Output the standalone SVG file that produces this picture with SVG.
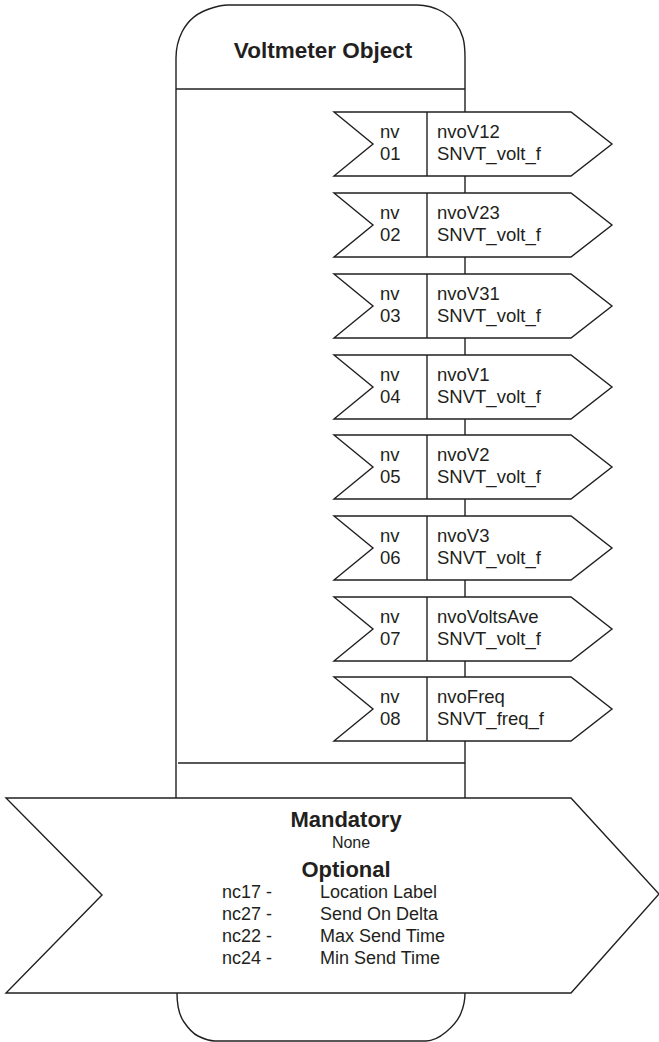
<svg xmlns="http://www.w3.org/2000/svg" width="659" height="1042" viewBox="0 0 659 1042">
<style>
.ln{fill:none;stroke:#231f20;stroke-width:1.4}
.sh{fill:#fff;stroke:#231f20;stroke-width:1.4;stroke-linejoin:miter}
.t{font-family:"Liberation Sans",Arial,sans-serif;fill:#231f20}
.bt{font-size:18.5px}
.b{font-weight:bold}
</style>
<defs>
<g id="blk">
<polygon class="sh" points="334,0 571,0 612,32 571,64 334,64 373,32"/>
<line class="ln" x1="427" y1="0" x2="427" y2="64"/>
</g>
</defs>
<rect width="659" height="1042" fill="#fff"/>
<g id="object">
<path class="ln" d="M176,798 L176,58 C176,48 178,40 182,32 C188,20 198,12 212,8 C218,6 222,5 228,5 L417,5 C425,5 434,7 443,12 C453,18 460,27 463,38 C465,45 465,50 465,58 L465,112"/>
<line class="ln" x1="176" y1="89" x2="465" y2="89"/>
<line class="ln" x1="178" y1="763" x2="465" y2="763"/>
<text class="t b" x="323" y="58" font-size="22.5" text-anchor="middle">Voltmeter Object</text>
</g>
<g id="connectors">
<line class="ln" x1="465" y1="176" x2="465" y2="193"/>
<line class="ln" x1="465" y1="257" x2="465" y2="274"/>
<line class="ln" x1="465" y1="338" x2="465" y2="355"/>
<line class="ln" x1="465" y1="419" x2="465" y2="435"/>
<line class="ln" x1="465" y1="499" x2="465" y2="516"/>
<line class="ln" x1="465" y1="580" x2="465" y2="597"/>
<line class="ln" x1="465" y1="661" x2="465" y2="677"/>
<line class="ln" x1="465" y1="741" x2="465" y2="798"/>
</g>
<g id="nv01" transform="translate(0,112)">
<use href="#blk"/>
<text class="t bt" x="380" y="26">nv</text><text class="t bt" x="380" y="48">01</text>
<text class="t bt" x="437" y="26">nvoV12</text><text class="t bt" x="437" y="48">SNVT_volt_f</text>
</g>
<g id="nv02" transform="translate(0,193)">
<use href="#blk"/>
<text class="t bt" x="380" y="26">nv</text><text class="t bt" x="380" y="48">02</text>
<text class="t bt" x="437" y="26">nvoV23</text><text class="t bt" x="437" y="48">SNVT_volt_f</text>
</g>
<g id="nv03" transform="translate(0,274)">
<use href="#blk"/>
<text class="t bt" x="380" y="26">nv</text><text class="t bt" x="380" y="48">03</text>
<text class="t bt" x="437" y="26">nvoV31</text><text class="t bt" x="437" y="48">SNVT_volt_f</text>
</g>
<g id="nv04" transform="translate(0,355)">
<use href="#blk"/>
<text class="t bt" x="380" y="26">nv</text><text class="t bt" x="380" y="48">04</text>
<text class="t bt" x="437" y="26">nvoV1</text><text class="t bt" x="437" y="48">SNVT_volt_f</text>
</g>
<g id="nv05" transform="translate(0,435)">
<use href="#blk"/>
<text class="t bt" x="380" y="26">nv</text><text class="t bt" x="380" y="48">05</text>
<text class="t bt" x="437" y="26">nvoV2</text><text class="t bt" x="437" y="48">SNVT_volt_f</text>
</g>
<g id="nv06" transform="translate(0,516)">
<use href="#blk"/>
<text class="t bt" x="380" y="26">nv</text><text class="t bt" x="380" y="48">06</text>
<text class="t bt" x="437" y="26">nvoV3</text><text class="t bt" x="437" y="48">SNVT_volt_f</text>
</g>
<g id="nv07" transform="translate(0,597)">
<use href="#blk"/>
<text class="t bt" x="380" y="26">nv</text><text class="t bt" x="380" y="48">07</text>
<text class="t bt" x="437" y="26">nvoVoltsAve</text><text class="t bt" x="437" y="48">SNVT_volt_f</text>
</g>
<g id="nv08" transform="translate(0,677)">
<use href="#blk"/>
<text class="t bt" x="380" y="26">nv</text><text class="t bt" x="380" y="48">08</text>
<text class="t bt" x="437" y="26">nvoFreq</text><text class="t bt" x="437" y="48">SNVT_freq_f</text>
</g>
<g id="config">
<path class="ln" d="M177,993 C177,1005 179,1015 184,1022 C188,1028 192,1033 198,1036 C204,1039 209,1041 215,1041 L426,1041 C433,1041 440,1037 446,1032 C452,1027 458,1021 461,1013 C464,1006 465,1000 465,993"/>
<polygon class="sh" points="6,798 571,798 659,894 571,993 6,993 102,895"/>
<text class="t b" x="346" y="827" font-size="22" text-anchor="middle">Mandatory</text>
<text class="t" x="351" y="848" font-size="16" text-anchor="middle">None</text>
<text class="t b" x="346" y="877" font-size="22" text-anchor="middle">Optional</text>
<g class="t" font-size="18">
<text x="222" y="898">nc17 -</text><text x="320" y="898">Location Label</text>
<text x="222" y="920">nc27 -</text><text x="320" y="920">Send On Delta</text>
<text x="222" y="942">nc22 -</text><text x="320" y="942">Max Send Time</text>
<text x="222" y="964">nc24 -</text><text x="320" y="964">Min Send Time</text>
</g>
</g>
</svg>
